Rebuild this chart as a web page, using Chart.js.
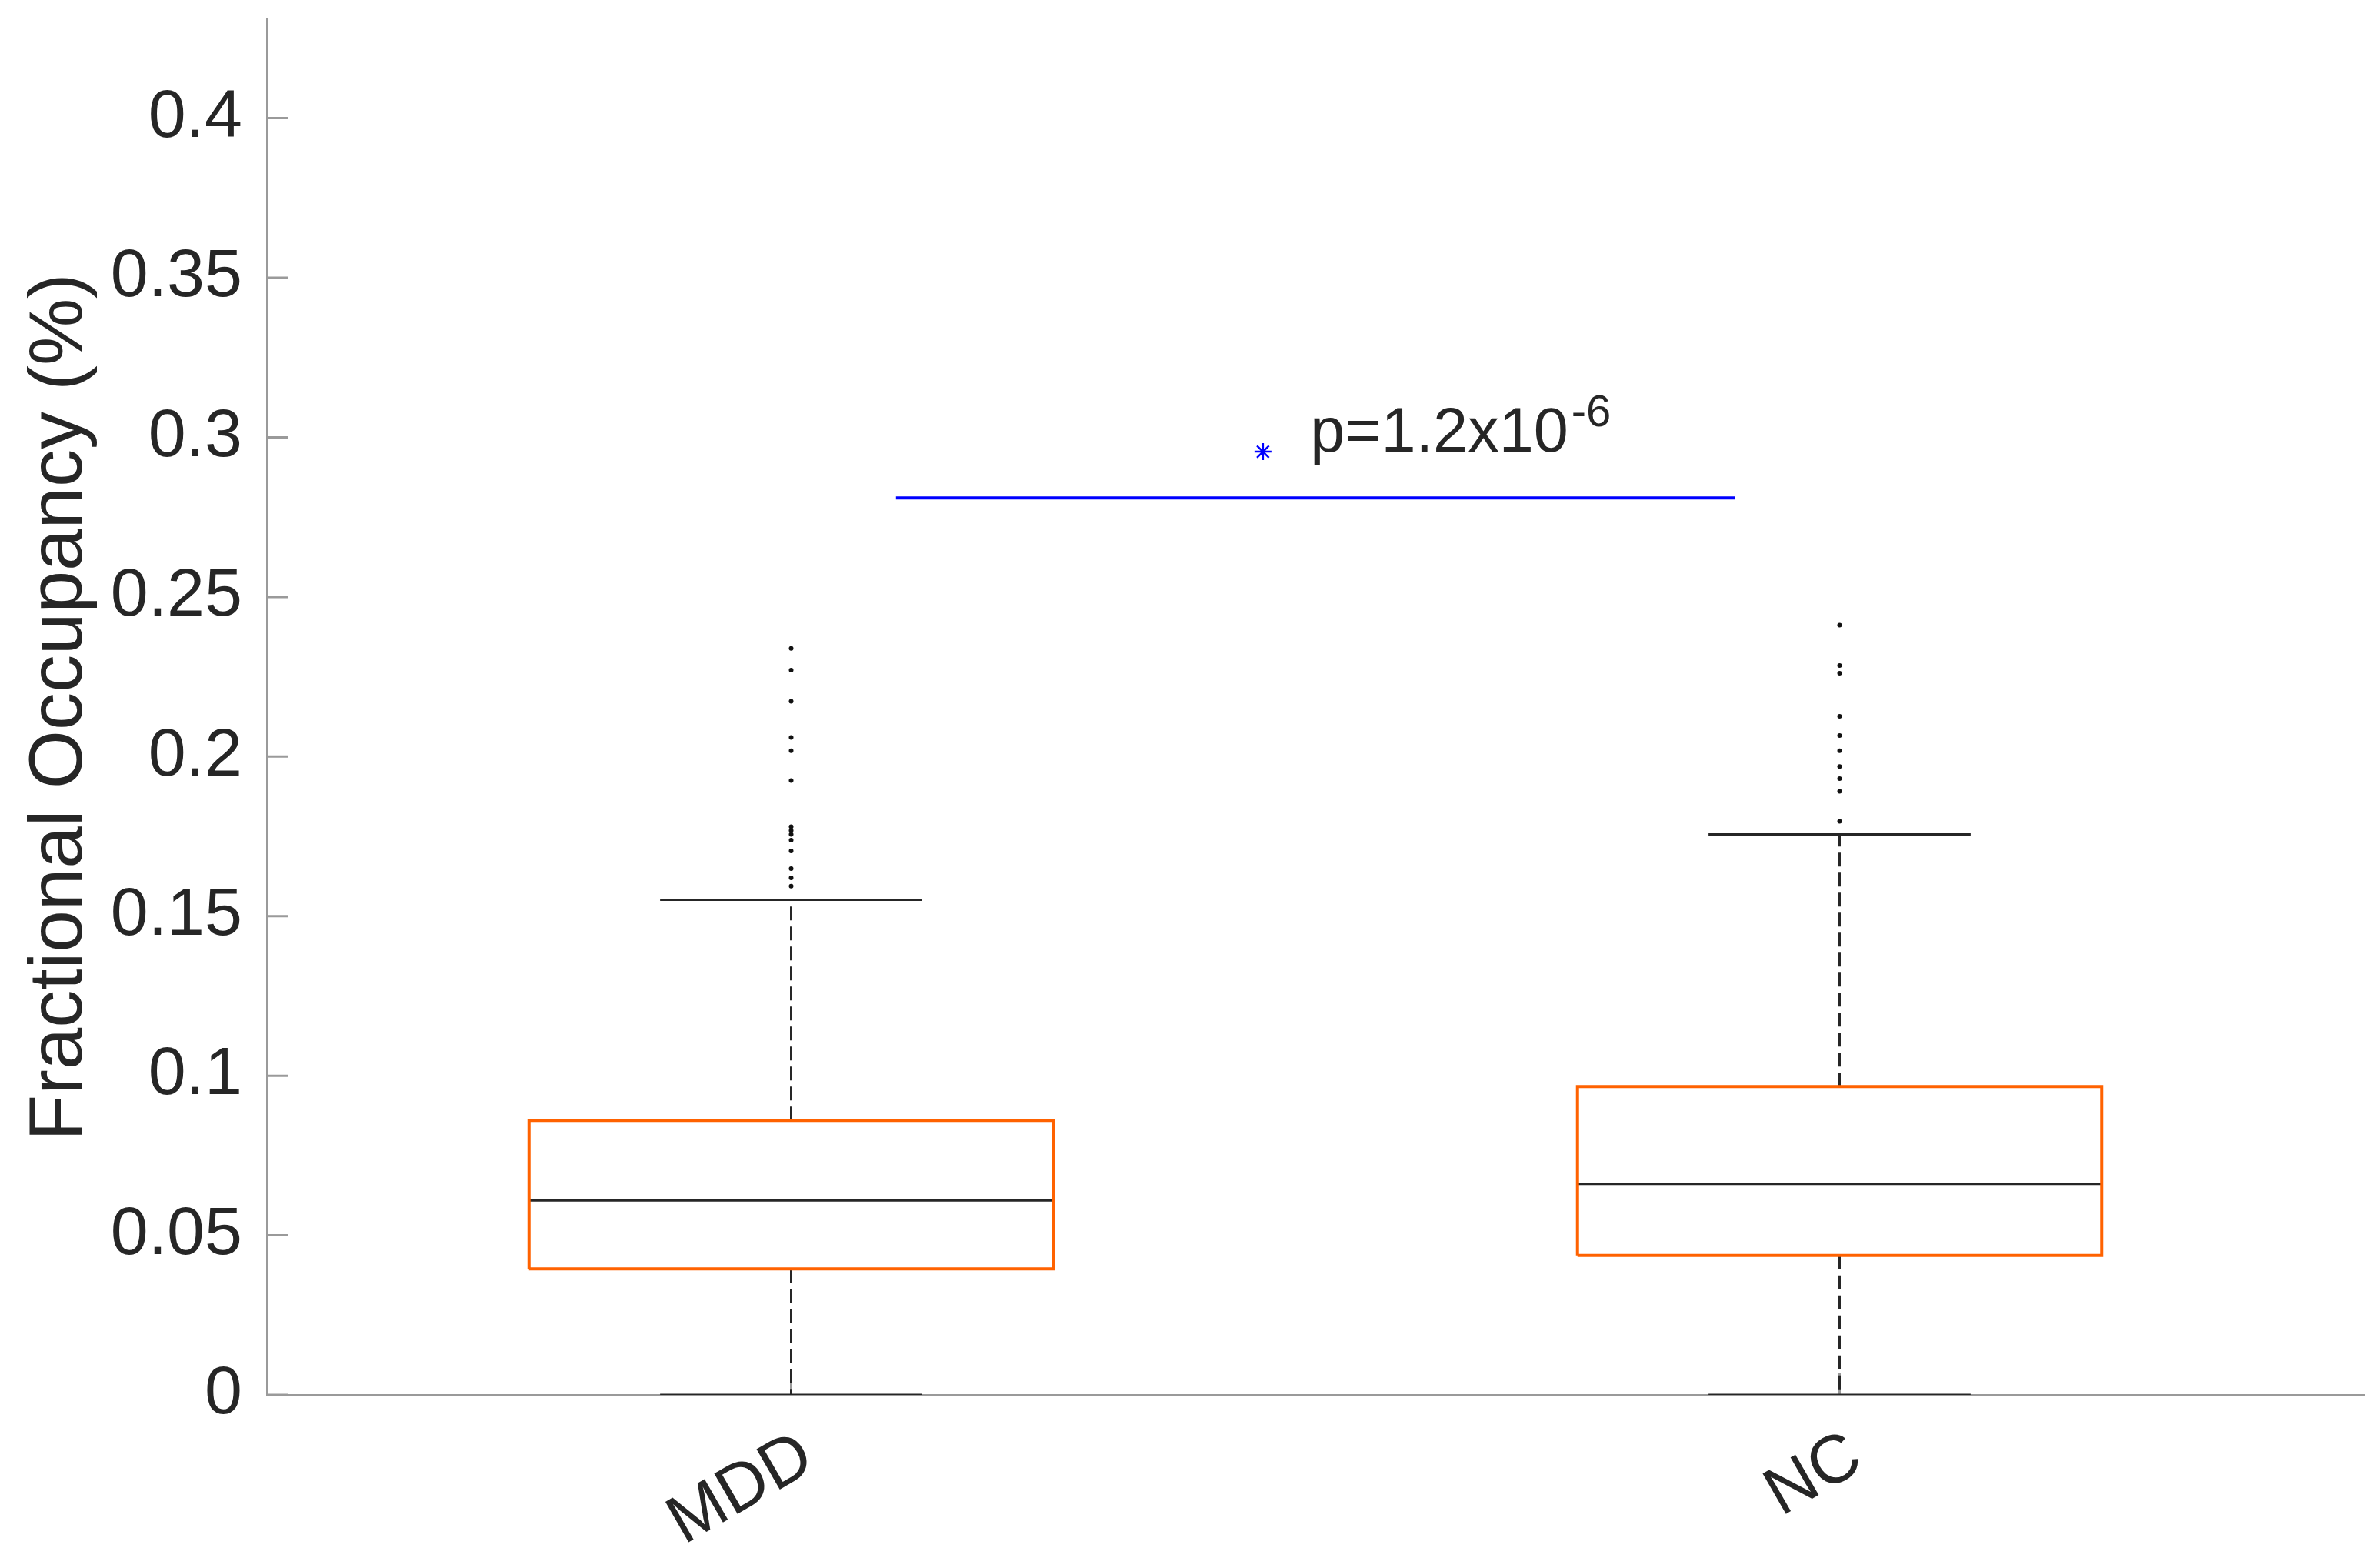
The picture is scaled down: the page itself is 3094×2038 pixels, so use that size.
<!DOCTYPE html>
<html>
<head>
<meta charset="utf-8">
<script src="https://cdn.jsdelivr.net/npm/chart.js@4/dist/chart.umd.min.js"></script>
<style>
  html, body { margin: 0; padding: 0; background: #fff; }
  canvas { display: block; }
</style>
</head>
<body>
<canvas id="chart" width="3094" height="2038"></canvas>
<script>
const categories = ['MDD', 'NC']
const positions = [1, 2]
const q1 = [0.0395, 0.0437]
const medians = [0.0609, 0.0661]
const q3 = [0.0860, 0.0966]
const whiskerLow = [0, 0]
const whiskerHigh = [0.1551, 0.1756]
const outliersMDD = [0.2339, 0.2271, 0.2173, 0.2060, 0.2018, 0.1925, 0.1780, 0.1768, 0.1756, 0.1738, 0.1704, 0.1649, 0.1620, 0.1594]
const outliersNC = [0.2412, 0.2285, 0.2261, 0.2126, 0.2066, 0.2018, 0.1969, 0.1931, 0.1891, 0.1797]
const yTicks = [0, 0.05, 0.1, 0.15, 0.2, 0.25, 0.3, 0.35, 0.4]
const yTickLabels = ['0', '0.05', '0.1', '0.15', '0.2', '0.25', '0.3', '0.35', '0.4']
const sigSpan = [1.1, 1.9]
const sigLevel = 0.281
const starPoint = [1.45, 0.2955]
const pLabel = { x: 1.495, y: 0.2955, base: 'p=1.2x10', exp: '-6' }

const FONT = '"Liberation Sans", Arial, Helvetica, sans-serif'
const TEXT = '#262626'
const AXIS = '#9a9a9a'
const BOX_HALF = 0.25
const CAP_HALF = 0.125

function seg(x0, y0, x1, y1) {
  return [{ x: x0, y: y0 }, { x: x1, y: y1 }]
}

function boxDatasets(i) {
  const x = positions[i]
  const solid = { borderColor: TEXT, borderWidth: 3 }
  const dashed = { borderColor: TEXT, borderWidth: 3, borderDash: [18, 8] }
  return [
    {
      data: [
        { x: x - BOX_HALF, y: q1[i] },
        { x: x + BOX_HALF, y: q1[i] },
        { x: x + BOX_HALF, y: q3[i] },
        { x: x - BOX_HALF, y: q3[i] },
        { x: x - BOX_HALF, y: q1[i] },
      ],
      borderColor: '#FF6200',
      borderWidth: 4,
    },
    { data: seg(x - BOX_HALF, medians[i], x + BOX_HALF, medians[i]), ...solid },
    { data: seg(x, q3[i], x, whiskerHigh[i]), ...dashed },
    { data: seg(x, q1[i], x, whiskerLow[i]), ...dashed },
    { data: seg(x - CAP_HALF, whiskerHigh[i], x + CAP_HALF, whiskerHigh[i]), ...solid },
    { data: seg(x - CAP_HALF, whiskerLow[i], x + CAP_HALF, whiskerLow[i]), ...solid },
  ]
}

function outlierDataset(x, values) {
  return {
    data: values.map(y => ({ x, y })),
    showLine: false,
    pointRadius: 3,
    pointBorderWidth: 0,
    pointBackgroundColor: '#111',
  }
}

const datasets = [
  ...boxDatasets(0),
  ...boxDatasets(1),
  outlierDataset(positions[0], outliersMDD),
  outlierDataset(positions[1], outliersNC),
  {
    data: seg(sigSpan[0], sigLevel, sigSpan[1], sigLevel),
    borderColor: '#0000FF',
    borderWidth: 4,
  },
  {
    data: [{ x: starPoint[0], y: starPoint[1] }],
    showLine: false,
    pointStyle: 'star',
    pointRadius: 11,
    pointBorderColor: '#0000FF',
    pointBorderWidth: 2.5,
  },
]

// MATLAB style ticks point into the plot
const inwardTicks = {
  id: 'inwardTicks',
  beforeDatasetsDraw(chart) {
    const { ctx, scales: { x, y } } = chart
    ctx.save()
    ctx.strokeStyle = AXIS
    ctx.lineWidth = 3
    ctx.beginPath()
    y.ticks.forEach(t => {
      const py = y.getPixelForValue(t.value)
      ctx.moveTo(x.left, py)
      ctx.lineTo(x.left + 28, py)
    })
    x.ticks.forEach(t => {
      const px = x.getPixelForValue(t.value)
      ctx.moveTo(px, y.bottom)
      ctx.lineTo(px, y.bottom - 28)
    })
    ctx.stroke()
    ctx.restore()
  },
}

const pValueText = {
  id: 'pValueText',
  afterDatasetsDraw(chart) {
    const { ctx, scales: { x, y } } = chart
    const px = x.getPixelForValue(pLabel.x)
    const py = y.getPixelForValue(pLabel.y)
    ctx.save()
    ctx.fillStyle = TEXT
    ctx.textBaseline = 'alphabetic'
    ctx.textAlign = 'left'
    ctx.font = `81px ${FONT}`
    ctx.fillText(pLabel.base, px, py)
    const w = ctx.measureText(pLabel.base).width
    ctx.font = `58px ${FONT}`
    ctx.fillText(pLabel.exp, px + w + 4, py - 33)
    ctx.restore()
  },
}

new Chart(document.getElementById('chart'), {
  type: 'line',
  data: { datasets },
  options: {
    responsive: false,
    devicePixelRatio: 1,
    animation: false,
    layout: { padding: { top: 25, right: 21, left: 0, bottom: 0 } },
    elements: {
      point: { radius: 0, hoverRadius: 0 },
      line: { tension: 0, fill: false, borderCapStyle: 'butt', borderJoinStyle: 'miter' },
    },
    plugins: {
      legend: { display: false },
      tooltip: { enabled: false },
    },
    scales: {
      x: {
        type: 'linear',
        min: 0.5,
        max: 2.5,
        grid: { drawOnChartArea: false, drawTicks: false },
        border: { color: AXIS, width: 3 },
        afterBuildTicks: scale => {
          scale.ticks = positions.map(v => ({ value: v }))
        },
        afterFit: scale => {
          scale.height = 225
          scale.paddingLeft = 0
          scale.paddingRight = 0
        },
        ticks: {
          autoSkip: false,
          minRotation: 30,
          maxRotation: 30,
          padding: 28,
          labelOffset: 22,
          color: TEXT,
          font: { family: FONT, size: 88 },
          callback: (v, i) => categories[i],
        },
      },
      y: {
        type: 'linear',
        min: 0,
        max: 0.431,
        grid: { drawOnChartArea: false, drawTicks: false },
        border: { color: AXIS, width: 3 },
        afterBuildTicks: scale => {
          scale.ticks = yTicks.map(v => ({ value: v }))
        },
        afterFit: scale => {
          scale.width = 347
          scale.paddingTop = 0
          scale.paddingBottom = 0
        },
        ticks: {
          padding: 32,
          color: TEXT,
          font: { family: FONT, size: 88 },
          callback: (v, i) => yTickLabels[i],
        },
        title: {
          display: true,
          text: 'Fractional Occupancy (%)',
          color: TEXT,
          font: { family: FONT, size: 98 },
          padding: { top: 20, bottom: 0 },
        },
      },
    },
  },
  plugins: [inwardTicks, pValueText],
})
</script>
</body>
</html>
